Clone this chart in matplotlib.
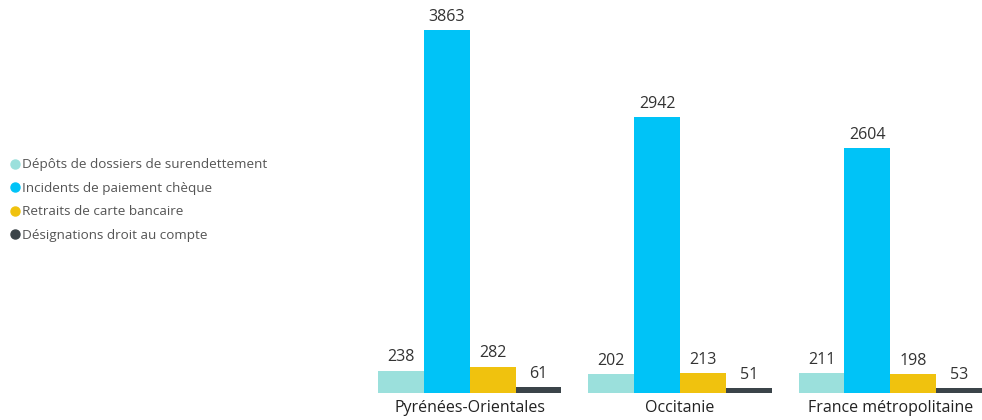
import matplotlib
matplotlib.use("Agg")
import matplotlib.pyplot as plt
from matplotlib.lines import Line2D
import numpy as np

categories = ["Pyrénées-Orientales", "Occitanie", "France métropolitaine"]
series_names = ["Dépôts de dossiers de surendettement",
                "Incidents de paiement chèque",
                "Retraits de carte bancaire",
                "Désignations droit au compte"]
depots = [238, 202, 211]
incidents = [3863, 2942, 2604]
retraits = [282, 213, 198]
designations = [61, 51, 53]
colors = ["#9BE0DC", "#00C3F7", "#F0C20E", "#3B4449"]

plt.rcParams['font.family'] = ['Open Sans', 'DejaVu Sans']

fig = plt.figure(figsize=(9.82, 4.2), dpi=100)
W, H = 982, 420
left, right, bottom, top = 378, 982, 393, 8
ax = fig.add_axes([left / W, (H - bottom) / H, (right - left) / W, (bottom - top) / H])

x = np.arange(len(categories))
bw = 0.218
data = [depots, incidents, retraits, designations]
for i, (vals, c) in enumerate(zip(data, colors)):
    pos = x + (i - 1.5) * bw
    ax.bar(pos, vals, width=bw, color=c)
    for p, v in zip(pos, vals):
        ax.text(p, v + 55, str(v), ha='center', va='bottom', fontsize=11.5, color='#333333')

ax.set_xlim(-2 * bw, 2 + 2 * bw)
ax.set_ylim(0, 4100)
ax.set_xticks(x)
ax.set_xticklabels(categories, fontsize=11.5, color='#222222')
ax.tick_params(axis='x', length=0, pad=5)
ax.set_yticks([])
for s in ax.spines.values():
    s.set_visible(False)

handles = [Line2D([0], [0], marker='o', linestyle='', markersize=6.5, markerfacecolor=c, markeredgecolor=c)
           for c in colors]
fig.legend(handles, series_names, loc='upper left', bbox_to_anchor=(0.002, (H - 153) / H),
           frameon=False, fontsize=9.7, labelcolor='#555555', handletextpad=0.0,
           handlelength=1.1, labelspacing=0.78, borderaxespad=0)

fig.savefig("out.png", dpi=100)
